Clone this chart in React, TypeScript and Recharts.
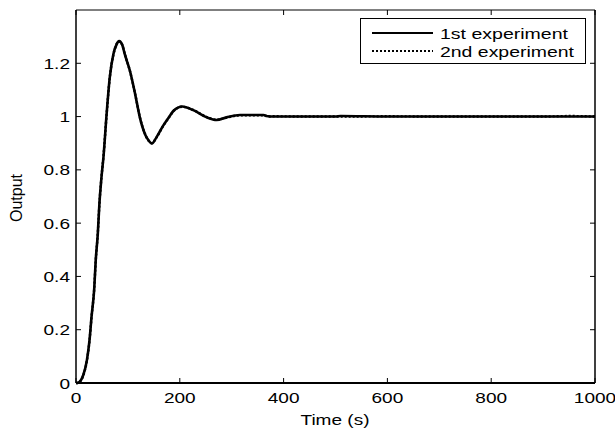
import { LineChart, Line, XAxis, YAxis } from 'recharts'

const FONT = '"Liberation Sans", Arial, Helvetica, sans-serif'
const SX = 1.27

// samples (time in s)
const time = [0, 4, 14, 21, 26, 30, 35, 38, 42, 45, 49, 53, 59, 65, 72, 78, 83, 89, 94, 104, 114, 123, 133, 140, 146, 155, 168, 181, 188, 205, 226, 252, 271, 290, 316, 361, 370, 380, 450, 500, 510, 600, 700, 780, 850, 900, 950, 1000]
const exp1 = [0, 0.001, 0.03, 0.086, 0.16, 0.25, 0.35, 0.46, 0.56, 0.67, 0.77, 0.85, 1.01, 1.146, 1.234, 1.27, 1.283, 1.27, 1.234, 1.171, 1.084, 0.997, 0.934, 0.91, 0.899, 0.922, 0.966, 1.003, 1.022, 1.038, 1.024, 0.997, 0.987, 0.997, 1.006, 1.006, 1.001, 1.0, 1.0, 1.0, 1.002, 1.0, 1.0, 1.0, 1.0, 1.0, 1.0, 1.0]
const exp2 = [0, 0.001, 0.028, 0.084, 0.158, 0.248, 0.352, 0.458, 0.562, 0.668, 0.772, 0.852, 1.008, 1.144, 1.232, 1.271, 1.282, 1.269, 1.235, 1.17, 1.085, 0.998, 0.935, 0.909, 0.9, 0.921, 0.965, 1.002, 1.021, 1.037, 1.025, 0.998, 0.988, 0.996, 1.005, 1.005, 1.0, 1.001, 1.0, 1.0, 1.0, 1.001, 1.0, 1.0, 1.0, 1.0, 1.002, 1.0]

const xTicks = [0, 200, 400, 600, 800, 1000]
const yTicks = [0, 0.2, 0.4, 0.6, 0.8, 1, 1.2]
const seriesNames = ['1st experiment', '2nd experiment']

const data = time.map((t, i) => ({ t, a: exp1[i], b: exp2[i] }))

const Label = ({ x, y, anchor, children }: any) => (
  <text
    transform={`translate(${x} ${y}) scale(${SX} 1)`}
    textAnchor={anchor}
    fontFamily={FONT}
    fontSize={15}
    fill="#000"
  >
    {children}
  </text>
)

const BottomTick = ({ x, y, payload }: any) => (
  <g>
    <line x1={x} x2={x} y1={y} y2={y - 5} stroke="#000" />
    <Label x={x} y={y + 20} anchor="middle">{payload.value}</Label>
  </g>
)

const LeftTick = ({ x, y, payload }: any) => (
  <g>
    <line x1={x + 6} x2={x + 11} y1={y} y2={y} stroke="#000" />
    <Label x={x} y={y + 5.5} anchor="end">{payload.value}</Label>
  </g>
)

const TopTick = ({ x, y }: any) => <line x1={x} x2={x} y1={y} y2={y + 5} stroke="#000" />
const RightTick = ({ x, y }: any) => <line x1={x - 5} x2={x} y1={y} y2={y} stroke="#000" />

// legend box drawn as plain svg in the upper right corner
function LegendBox() {
  return (
    <g transform="translate(360 18)">
      <rect x={0.5} y={0.5} width={225} height={45} fill="#fff" stroke="#000" />
      <line x1={12} x2={73} y1={15} y2={15} stroke="#000" strokeWidth={2} />
      <line x1={12} x2={73} y1={33} y2={33} stroke="#000" strokeWidth={2} strokeDasharray="2 2" />
      <text x={80} y={20.5} fontFamily={FONT} fontSize={15} textLength={128} lengthAdjust="spacingAndGlyphs">
        {seriesNames[0]}
      </text>
      <text x={80} y={38.5} fontFamily={FONT} fontSize={15} textLength={134} lengthAdjust="spacingAndGlyphs">
        {seriesNames[1]}
      </text>
    </g>
  )
}

export default function App() {
  return (
    <div style={{ position: 'absolute', left: 0, top: 0, background: '#fff' }}>
      <LineChart width={615} height={432} data={data} margin={{ top: 9, right: 19, bottom: 0, left: 0 }}>
        <XAxis
          dataKey="t"
          type="number"
          domain={[0, 1000]}
          ticks={xTicks}
          height={49}
          tickSize={0}
          tickMargin={0}
          tickLine={false}
          axisLine={{ stroke: '#000', strokeWidth: 2 }}
          tick={<BottomTick />}
          interval={0}
        />
        <XAxis
          xAxisId="top"
          dataKey="t"
          orientation="top"
          type="number"
          domain={[0, 1000]}
          allowDataOverflow
          ticks={xTicks}
          height={1}
          tickSize={0}
          tickMargin={0}
          tickLine={false}
          axisLine={{ stroke: '#000', strokeWidth: 1 }}
          tick={<TopTick />}
          interval={0}
        />
        <YAxis
          type="number"
          domain={[0, 1.4]}
          ticks={yTicks}
          width={76}
          tickSize={0}
          tickMargin={6}
          tickLine={false}
          axisLine={{ stroke: '#000', strokeWidth: 1.5 }}
          tick={<LeftTick />}
          interval={0}
        />
        <YAxis
          yAxisId="right"
          orientation="right"
          type="number"
          domain={[0, 1.4]}
          allowDataOverflow
          ticks={yTicks}
          width={1}
          tickSize={0}
          tickMargin={0}
          tickLine={false}
          axisLine={{ stroke: '#000', strokeWidth: 1.5 }}
          tick={<RightTick />}
          interval={0}
        />
        <Line xAxisId="top" yAxisId="right" dataKey="a" stroke="none" strokeWidth={0} dot={false} legendType="none" isAnimationActive={false} />
        <Line name={seriesNames[0]} dataKey="a" type="monotone" stroke="#000" strokeWidth={2.6} dot={false} isAnimationActive={false} />
        <Line name={seriesNames[1]} dataKey="b" type="monotone" stroke="#000" strokeWidth={2.4} strokeDasharray="2 2" dot={false} isAnimationActive={false} />
        <LegendBox />
        <text
          transform={`translate(335 425) scale(${SX} 1)`}
          textAnchor="middle"
          fontFamily={FONT}
          fontSize={15}
        >
          Time (s)
        </text>
        <text
          transform="translate(21.5 198) rotate(-90)"
          textAnchor="middle"
          fontFamily={FONT}
          fontSize={16}
        >
          Output
        </text>
      </LineChart>
    </div>
  )
}
